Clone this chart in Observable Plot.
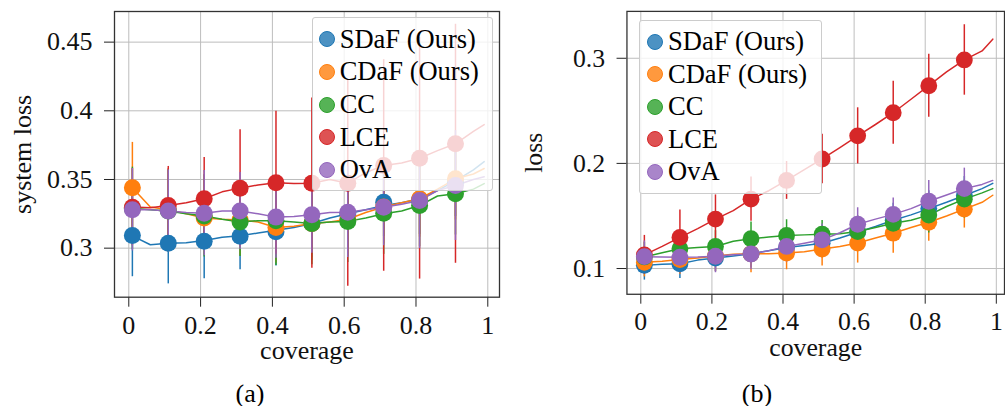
<!DOCTYPE html>
<html><head><meta charset="utf-8">
<script src="https://cdn.jsdelivr.net/npm/d3@7"></script>
<script src="https://cdn.jsdelivr.net/npm/@observablehq/plot@0.6"></script>
<style>
body{margin:0;background:#fff;width:1005px;height:406px;overflow:hidden;position:relative;font-family:"Liberation Serif",serif;}
.panel{position:absolute;top:0;}
.panel svg text{font-family:"Liberation Serif",serif !important;font-size:26px !important;fill:#111;}
.legend{position:absolute;background:rgba(255,255,255,0.8);border:1px solid #cccccc;border-radius:3px;box-sizing:border-box;}
.row{position:absolute;display:flex;align-items:center;height:32px;font-size:26.5px;color:#000;white-space:nowrap;}
.sw{width:16px;height:16px;border-radius:50%;box-sizing:border-box;margin-right:5px;}
.cap{position:absolute;font-size:26px;transform:translateX(-50%);line-height:20px;height:20px;}
</style></head><body>
<div id="a" class="panel" style="left:0px"></div>
<div id="b" class="panel" style="left:500px"></div>
<script>
// ---------- data ----------
const series = ["SDaF (Ours)", "CDaF (Ours)", "CC", "LCE", "OvA"];
const colors = ["#1f77b4", "#ff7f0e", "#2ca02c", "#d62728", "#9467bd"];
const markerX = [0.01, 0.11, 0.21, 0.31, 0.41, 0.51, 0.61, 0.71, 0.81, 0.91];
const lineX = [0.01, 0.06, 0.11, 0.16, 0.21, 0.26, 0.31, 0.36, 0.41, 0.46, 0.51, 0.56, 0.61, 0.66, 0.71, 0.76, 0.81, 0.86, 0.91, 0.96, 0.99];
const xTicks = [0, 0.2, 0.4, 0.6, 0.8, 1];
const yTicksA = [0.3, 0.35, 0.4, 0.45];
const yTicksB = [0.1, 0.2, 0.3];

// panel (a): system loss
const meanA_SDaF = [0.3092, 0.3036, 0.3051, 0.3087, 0.312, 0.318, 0.325, 0.3335, 0.335, 0.348];
const meanA_CDaF = [0.344, 0.328, 0.322, 0.3205, 0.315, 0.318, 0.321, 0.330, 0.336, 0.3505];
const meanA_CC   = [0.329, 0.327, 0.3235, 0.319, 0.320, 0.318, 0.3195, 0.3255, 0.331, 0.3396];
const meanA_LCE  = [0.3298, 0.331, 0.336, 0.3437, 0.3476, 0.3473, 0.3473, 0.3602, 0.3655, 0.376];
const meanA_OvA  = [0.328, 0.327, 0.3255, 0.327, 0.3226, 0.3243, 0.3262, 0.3298, 0.3347, 0.3456];
const errA_SDaF = [0.030, 0.0296, 0.0274, 0.0244, 0.025, 0.025, 0.025, 0.025, 0.025, 0.025];
const errA_CDaF = [0.033, 0.030, 0.027, 0.026, 0.026, 0.027, 0.027, 0.027, 0.028, 0.030];
const errA_CC   = [0.030, 0.030, 0.030, 0.025, 0.0326, 0.030, 0.030, 0.030, 0.030, 0.030];
const errA_LCE  = [0.028, 0.0285, 0.030, 0.0425, 0.052, 0.062, 0.075, 0.077, 0.088, 0.087];
const errA_OvA  = [0.030, 0.030, 0.031, 0.028, 0.030, 0.028, 0.033, 0.028, 0.035, 0.040];
const lineA_SDaF = [0.309, 0.3025, 0.3035, 0.304, 0.3055, 0.308, 0.309, 0.311, 0.313, 0.315, 0.318, 0.322, 0.325, 0.328, 0.331, 0.333, 0.336, 0.342, 0.349, 0.357, 0.363];
const lineA_CDaF = [0.344, 0.330, 0.328, 0.325, 0.322, 0.321, 0.3205, 0.319, 0.315, 0.316, 0.318, 0.319, 0.321, 0.326, 0.330, 0.333, 0.336, 0.343, 0.3505, 0.354, 0.358];
const lineA_CC   = [0.329, 0.328, 0.327, 0.325, 0.3235, 0.321, 0.319, 0.320, 0.320, 0.319, 0.318, 0.319, 0.3195, 0.322, 0.325, 0.327, 0.331, 0.338, 0.3396, 0.343, 0.347];
const lineA_LCE  = [0.330, 0.3295, 0.331, 0.333, 0.336, 0.341, 0.3437, 0.346, 0.3476, 0.347, 0.3473, 0.350, 0.3473, 0.355, 0.3602, 0.362, 0.3655, 0.371, 0.376, 0.385, 0.390];
const lineA_OvA  = [0.328, 0.328, 0.327, 0.326, 0.3255, 0.327, 0.327, 0.325, 0.3226, 0.323, 0.3243, 0.326, 0.3262, 0.328, 0.3298, 0.332, 0.3347, 0.342, 0.3456, 0.350, 0.352];

// panel (b): loss
const meanB_SDaF = [0.103, 0.1044, 0.110, 0.114, 0.120, 0.124, 0.1345, 0.146, 0.157, 0.1695];
const meanB_CDaF = [0.106, 0.1085, 0.112, 0.114, 0.1148, 0.1185, 0.1242, 0.1336, 0.144, 0.1565];
const meanB_CC   = [0.111, 0.1188, 0.121, 0.1283, 0.1314, 0.1327, 0.1352, 0.143, 0.1508, 0.166];
const meanB_LCE  = [0.113, 0.1296, 0.147, 0.166, 0.1838, 0.2042, 0.2262, 0.2482, 0.2739, 0.2984];
const meanB_OvA  = [0.1113, 0.1107, 0.1117, 0.1138, 0.121, 0.1273, 0.1421, 0.1515, 0.164, 0.176];
const errB_SDaF = [0.014, 0.014, 0.013, 0.013, 0.013, 0.014, 0.015, 0.016, 0.017, 0.018];
const errB_CDaF = [0.014, 0.014, 0.015, 0.018, 0.016, 0.016, 0.019, 0.019, 0.018, 0.018];
const errB_CC   = [0.014, 0.015, 0.015, 0.016, 0.015, 0.013, 0.015, 0.016, 0.017, 0.018];
const errB_LCE  = [0.0185, 0.026, 0.023, 0.021, 0.018, 0.0236, 0.0267, 0.030, 0.030, 0.0335];
const errB_OvA  = [0.015, 0.015, 0.0157, 0.015, 0.015, 0.015, 0.0157, 0.0157, 0.0198, 0.0195];
const lineB_SDaF = [0.103, 0.104, 0.1045, 0.108, 0.110, 0.112, 0.114, 0.117, 0.120, 0.122, 0.124, 0.129, 0.1345, 0.140, 0.146, 0.151, 0.157, 0.163, 0.1695, 0.176, 0.181];
const lineB_CDaF = [0.106, 0.107, 0.1085, 0.110, 0.112, 0.1135, 0.114, 0.114, 0.1148, 0.116, 0.1185, 0.121, 0.1242, 0.129, 0.1336, 0.139, 0.144, 0.150, 0.1565, 0.163, 0.1697];
const lineB_CC   = [0.111, 0.115, 0.1188, 0.120, 0.121, 0.126, 0.1283, 0.130, 0.1314, 0.132, 0.1327, 0.133, 0.1352, 0.139, 0.143, 0.146, 0.1508, 0.159, 0.166, 0.172, 0.176];
const lineB_LCE  = [0.113, 0.121, 0.1296, 0.138, 0.147, 0.155, 0.166, 0.174, 0.1838, 0.194, 0.2042, 0.215, 0.2262, 0.237, 0.2482, 0.261, 0.2739, 0.287, 0.2984, 0.307, 0.3182];
const lineB_OvA  = [0.1113, 0.111, 0.1107, 0.111, 0.1117, 0.113, 0.1138, 0.117, 0.121, 0.124, 0.1273, 0.134, 0.1421, 0.147, 0.1515, 0.157, 0.164, 0.170, 0.176, 0.180, 0.1838];

// ---------- build ----------
function tidy(means, errs, lines) {
  const pts = [], ln = [];
  series.forEach((s, i) => {
    markerX.forEach((x, j) => pts.push({series: s, x, y: means[i][j], lo: means[i][j] - errs[i][j], hi: means[i][j] + errs[i][j]}));
    lineX.forEach((x, j) => ln.push({series: s, x, y: lines[i][j]}));
  });
  return {pts, ln};
}

const fmt = d => String(d);

function panel(cfg) {
  const {pts, ln} = cfg.data;
  const perSeries = [];
  series.forEach((s) => {
    perSeries.push(Plot.line(ln.filter(d => d.series === s), {x: "x", y: "y", stroke: "series", strokeWidth: 1.5}));
    perSeries.push(Plot.ruleX(pts.filter(d => d.series === s), {x: "x", y1: "lo", y2: "hi", stroke: "series", strokeWidth: 1.5}));
  });
  return Plot.plot({
    width: cfg.width, height: cfg.height,
    marginLeft: cfg.ml, marginRight: cfg.mr, marginTop: cfg.mt, marginBottom: cfg.mb,
    style: {background: "transparent", overflow: "visible", color: "#222"},
    color: {domain: series, range: colors},
    x: {domain: cfg.xd, ticks: xTicks, tickFormat: fmt, tickSize: 10, tickPadding: 8, label: "coverage", labelAnchor: "center", labelOffset: 62, labelArrow: "none"},
    y: {domain: cfg.yd, ticks: cfg.yt, tickFormat: fmt, tickSize: 10, tickPadding: 12, label: cfg.ylabel, labelAnchor: "center", labelOffset: cfg.lo, labelArrow: "none"},
    marks: [
      Plot.gridX(xTicks, {stroke: "#bdbdbd", strokeOpacity: 1, strokeWidth: 1}),
      Plot.gridY(cfg.yt, {stroke: "#bdbdbd", strokeOpacity: 1, strokeWidth: 1}),
      ...perSeries,
      Plot.dot(pts, {x: "x", y: "y", r: 8.5, fill: "series", stroke: "none"}),
      Plot.frame({stroke: "#333", strokeWidth: 1.3})
    ]
  });
}

const A = tidy([meanA_SDaF, meanA_CDaF, meanA_CC, meanA_LCE, meanA_OvA],
               [errA_SDaF, errA_CDaF, errA_CC, errA_LCE, errA_OvA],
               [lineA_SDaF, lineA_CDaF, lineA_CC, lineA_LCE, lineA_OvA]);
const B = tidy([meanB_SDaF, meanB_CDaF, meanB_CC, meanB_LCE, meanB_OvA],
               [errB_SDaF, errB_CDaF, errB_CC, errB_LCE, errB_OvA],
               [lineB_SDaF, lineB_CDaF, lineB_CC, lineB_LCE, lineB_OvA]);

document.getElementById("a").append(panel({
  data: A, width: 500, height: 370, ml: 114, mr: 1, mt: 11, mb: 73.3,
  xd: [-0.0398, 1.0326], yd: [0.2643, 0.4723], yt: yTicksA, ylabel: "system loss", lo: 102
}));
document.getElementById("b").append(panel({
  data: B, width: 510, height: 370, ml: 127.7, mr: 1, mt: 11, mb: 73.3,
  xd: [-0.039, 1.023], yd: [0.0755, 0.3446], yt: yTicksB, ylabel: "loss", lo: 104
}));

function legend(left, top, w, h, cx, rows) {
  const box = document.createElement("div");
  box.className = "legend";
  Object.assign(box.style, {left: left + "px", top: top + "px", width: w + "px", height: h + "px"});
  document.body.append(box);
  series.forEach((s, i) => {
    const r = document.createElement("div");
    r.className = "row";
    r.style.left = (cx - 8) + "px";
    r.style.top = (rows[i] - 16) + "px";
    const sw = document.createElement("span");
    sw.className = "sw";
    const c = d3.color(colors[i]);
    sw.style.border = "1px solid " + colors[i];
    c.opacity = 0.8;
    sw.style.background = c.formatRgb();
    const t = document.createElement("span");
    t.textContent = s;
    r.append(sw, t);
    document.body.append(r);
  });
}
legend(311.7, 16.7, 181.6, 174, 326.7, [39.3, 71.9, 104.5, 137.1, 169.7]);
legend(639.3, 20, 182.4, 174, 655, [41.7, 74.2, 106.7, 139.2, 171.7]);

function caption(text, x, y) {
  const c = document.createElement("div");
  c.className = "cap";
  c.textContent = text;
  c.style.left = x + "px";
  c.style.top = y + "px";
  document.body.append(c);
}
caption("(a)", 250, 384);
caption("(b)", 757, 384);
</script>
</body></html>
